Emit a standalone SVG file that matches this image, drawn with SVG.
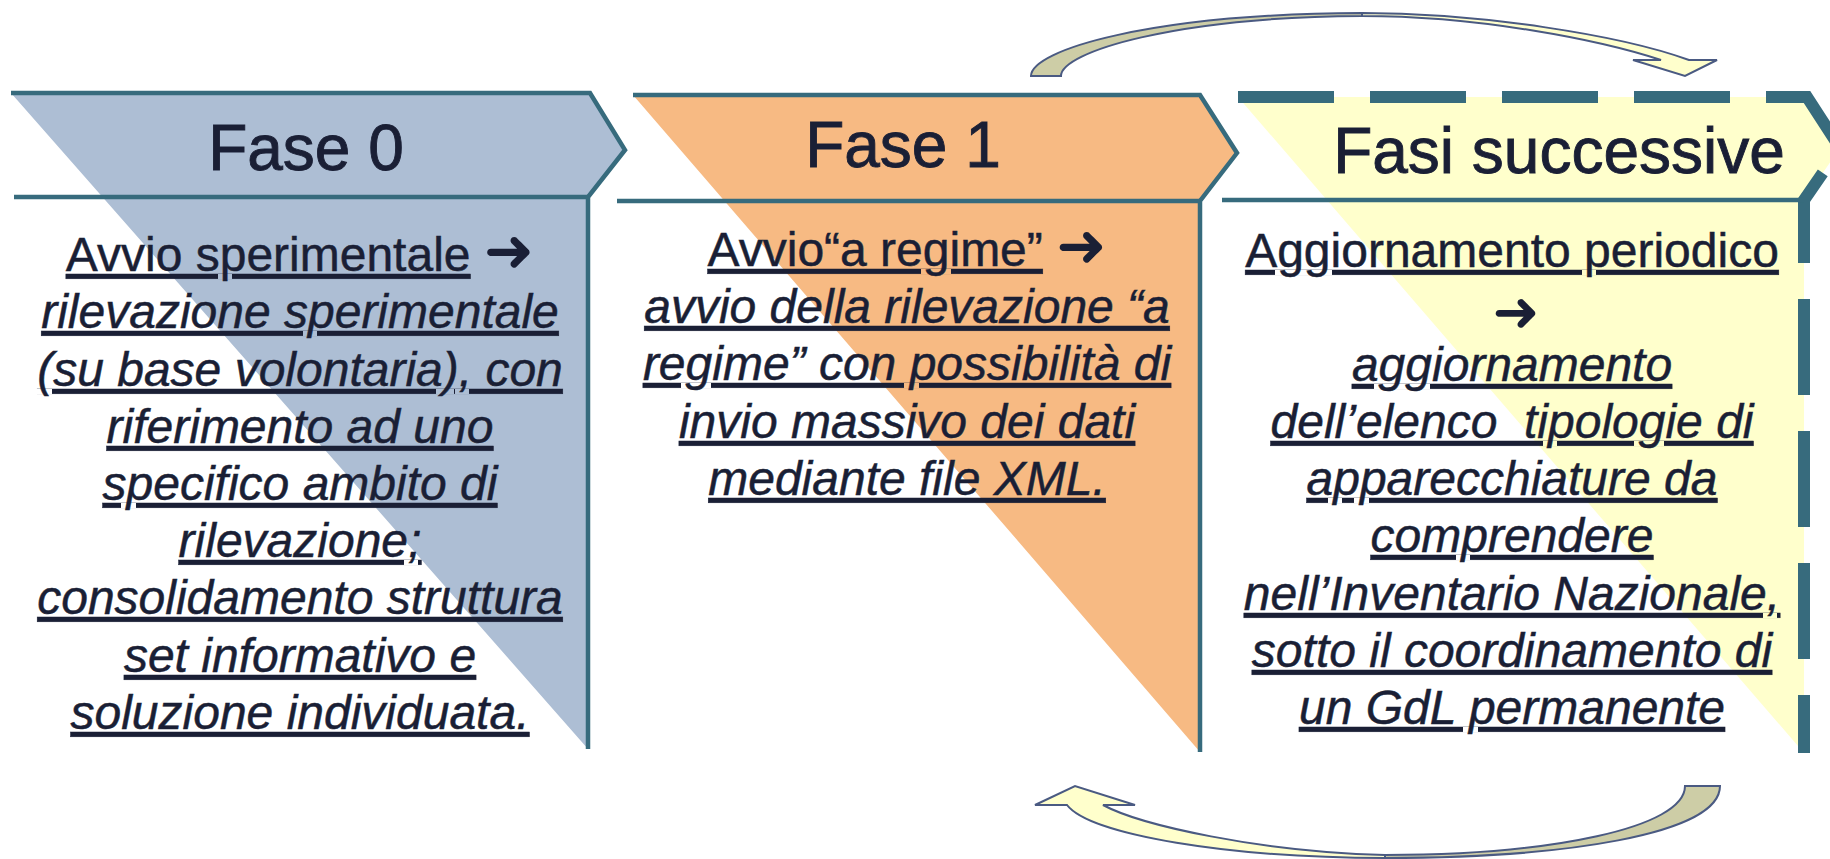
<svg xmlns="http://www.w3.org/2000/svg" width="1830" height="859" viewBox="0 0 1830 859">
<style>
.line{fill:none;stroke:#376b7d;stroke-width:4.5;stroke-linejoin:miter}
.dash{fill:none;stroke:#376b7d;stroke-width:12;stroke-dasharray:96 36;stroke-linejoin:miter}
.title{font-family:"Liberation Sans",Arial,sans-serif;font-size:64px;fill:#1a1f35;stroke:#1a1f35;stroke-width:0.9;text-anchor:middle}
.head{font-family:"Liberation Sans",Arial,sans-serif;font-size:48px;fill:#1a1f35;stroke:#1a1f35;stroke-width:0.5;text-anchor:middle}
.body{font-family:"Liberation Sans",Arial,sans-serif;font-size:48px;font-style:italic;fill:#1a1f35;stroke:#1a1f35;stroke-width:0.5;text-anchor:middle;text-decoration:underline}
.u{text-decoration:underline}
.arr{font-family:"DejaVu Sans",sans-serif;font-size:60px;stroke-width:0}
.arr2{font-family:"DejaVu Sans",sans-serif;font-size:56px;fill:#1a1f35;text-anchor:middle}
.ca{stroke:#4a5a82;stroke-width:2;stroke-linejoin:miter}
.khaki{fill:#cdcda6}
.yel{fill:#ffffcc}
</style>
<rect width="1830" height="859" fill="#ffffff"/>
<g id="fase0">
<polygon points="11,93 590,93 625,150 588,197 588,749" fill="#adbed4"/>
<path class="line" d="M11,93 L590,93 L625,150 L588,197 L588,749"/>
<path class="line" d="M14,197 L588,197"/>
<text class="title" x="306" y="170">Fase 0</text>
<text class="head" x="300" y="271"><tspan class="u">Avvio sperimentale</tspan> <tspan class="arr">➜</tspan></text>
<text class="body" x="300" y="328">rilevazione sperimentale</text>
<text class="body" x="300" y="386">(su base volontaria), con</text>
<text class="body" x="300" y="443">riferimento ad uno</text>
<text class="body" x="300" y="500">specifico ambito di</text>
<text class="body" x="300" y="557">rilevazione;</text>
<text class="body" x="300" y="614">consolidamento struttura</text>
<text class="body" x="300" y="672">set informativo e</text>
<text class="body" x="300" y="729">soluzione individuata.</text>
</g>
<g id="fase1">
<polygon points="633,95 1200,95 1237,153 1200,201 1200,752" fill="#f7ba83"/>
<path class="line" d="M633,95 L1200,95 L1237,153 L1200,201 L1200,752"/>
<path class="line" d="M617,201 L1200,201"/>
<text class="title" x="903" y="167">Fase 1</text>
<text class="head" x="907" y="266"><tspan class="u">Avvio“a regime”</tspan> <tspan class="arr">➜</tspan></text>
<text class="body" x="907" y="323">avvio della rilevazione “a</text>
<text class="body" x="907" y="380">regime” con possibilità di</text>
<text class="body" x="907" y="438">invio massivo dei dati</text>
<text class="body" x="907" y="495">mediante file XML.</text>
</g>
<g id="fasi-successive">
<polygon points="1238,97 1807,97 1840,148 1804,200 1804,753" fill="#ffffcc"/>
<path class="dash" d="M1238,97 L1807,97 L1840,148 L1804,200 L1804,753"/>
<path class="line" d="M1222,200 L1804,200"/>
<text class="title" x="1559" y="173">Fasi successive</text>
<text class="head u" x="1512" y="267">Aggiornamento periodico</text>
<text class="arr2" x="1516" y="331">➜</text>
<text class="body" x="1512" y="381">aggiornamento</text>
<text class="body" x="1512" y="438" xml:space="preserve">dell’elenco  tipologie di</text>
<text class="body" x="1512" y="495">apparecchiature da</text>
<text class="body" x="1512" y="552">comprendere</text>
<text class="body" x="1512" y="610">nell’Inventario Nazionale,</text>
<text class="body" x="1512" y="667">sotto il coordinamento di</text>
<text class="body" x="1512" y="724">un GdL permanente</text>
</g>
<g id="connectors">
<path class="ca khaki" d="M1031,76 C1031,50 1150,14 1362,13 L1362,16 C1175,17 1061,52 1061,76 Z"/>
<path class="ca yel" d="M1362,13 C1480,13 1620,35 1689,60 L1717,60 L1685,76 L1633,60 L1661,60 C1600,40 1480,16 1362,16 Z"/>
<path class="ca khaki" d="M1720,786 C1720,835 1560,858 1385,858 L1385,855 C1550,855 1685,828 1685,786 Z"/>
<path class="ca yel" d="M1385,858 C1230,858 1090,835 1067,805 L1035,805 L1075,786 L1135,805 L1103,805 C1140,825 1260,852 1385,855 Z"/>
</g>
</svg>
